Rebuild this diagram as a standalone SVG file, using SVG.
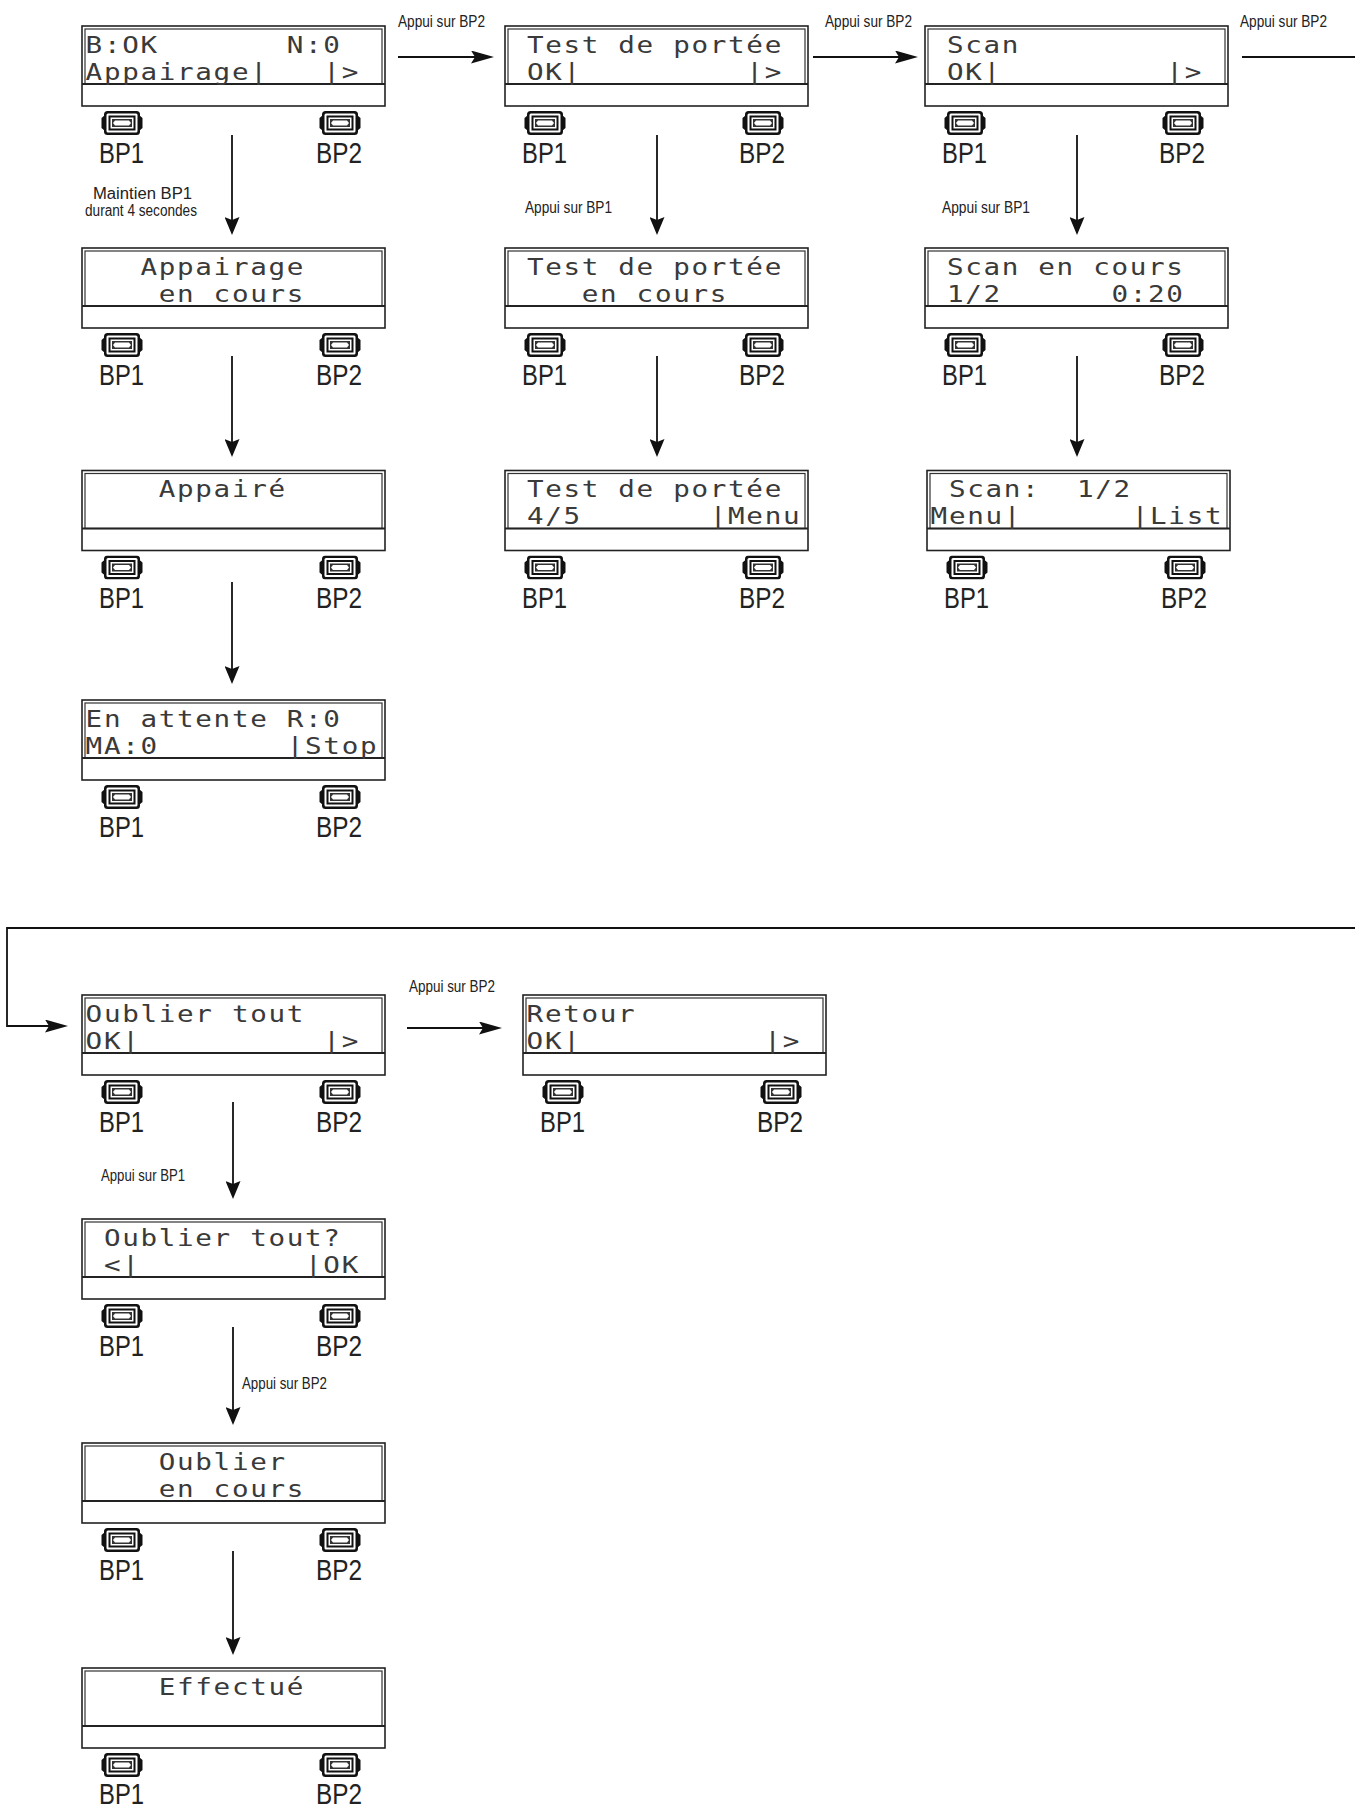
<svg xmlns="http://www.w3.org/2000/svg" xmlns:xlink="http://www.w3.org/1999/xlink" width="1355" height="1807" viewBox="0 0 1355 1807">
<style>
.frame{fill:#fff;stroke:#222;stroke-width:1.6}
.lcd{fill:none;stroke:#333;stroke-width:1.2}
.sep{stroke:#222;stroke-width:2}
.lcdt{font-family:"DejaVu Sans Mono","Liberation Mono",monospace;font-size:23px;letter-spacing:1.4px;fill:#3a3a3a;white-space:pre;transform:scale(1.2,1);transform-origin:0 0}
.bp{font-family:"Liberation Sans",Arial,sans-serif;font-size:29px;fill:#222}
.lbl{font-family:"Liberation Sans",Arial,sans-serif;font-size:16px;fill:#222}
.con{fill:none;stroke:#111;stroke-width:1.8}
</style>
<defs>
<symbol id="btn" viewBox="0 0 42 24" width="42" height="24">
<path d="M4,4 L0.5,7 L0.5,17 L4,20 Z M38,4 L41.5,7 L41.5,17 L38,20 Z" fill="#111"/>
<rect x="3" y="0" width="36" height="24" rx="3.5" fill="#111"/>
<rect x="5.5" y="2.5" width="31" height="19" rx="1.5" fill="#fff"/>
<rect x="7.5" y="4.5" width="27" height="15" fill="#111"/>
<rect x="9.5" y="6.5" width="23" height="11" fill="#fff"/>
<rect x="11" y="8" width="20" height="8" fill="#333"/>
<path d="M14,9.5 L28,9.5 L30,12 L28,14.5 L14,14.5 L12,12 Z" fill="#fff"/>
</symbol>
<marker id="ah" viewBox="0 0 23 13" refX="18" refY="6.5" markerWidth="23" markerHeight="13" markerUnits="userSpaceOnUse" orient="auto">
<path d="M0,0 L23,6.5 L0,13 L4,6.5 Z" fill="#111"/>
</marker>
<marker id="av" viewBox="0 0 18 15" refX="13" refY="7.5" markerWidth="18" markerHeight="15" markerUnits="userSpaceOnUse" orient="auto">
<path d="M0,0 L18,7.5 L0,15 L3,7.5 Z" fill="#111"/>
</marker>
</defs>
<rect width="1355" height="1807" fill="#fff"/>

<g id="connectors">
<path class="con" d="M398,57 H489" marker-end="url(#ah)"/>
<path class="con" d="M813,57 H913" marker-end="url(#ah)"/>
<path class="con" d="M1242,57 H1370 V928 H7 V1026 H63" marker-end="url(#ah)"/>
<path class="con" d="M407,1028 H497" marker-end="url(#ah)"/>
<path class="con" d="M232,135 V230" marker-end="url(#av)"/>
<path class="con" d="M232,356 V452" marker-end="url(#av)"/>
<path class="con" d="M232,582 V679" marker-end="url(#av)"/>
<path class="con" d="M657,135 V230" marker-end="url(#av)"/>
<path class="con" d="M657,356 V452" marker-end="url(#av)"/>
<path class="con" d="M1077,135 V230" marker-end="url(#av)"/>
<path class="con" d="M1077,356 V452" marker-end="url(#av)"/>
<path class="con" d="M233,1102 V1194" marker-end="url(#av)"/>
<path class="con" d="M233,1327 V1420" marker-end="url(#av)"/>
<path class="con" d="M233,1551 V1650" marker-end="url(#av)"/>
<text class="lbl" x="398" y="27" textLength="87" lengthAdjust="spacingAndGlyphs">Appui sur BP2</text>
<text class="lbl" x="825" y="27" textLength="87" lengthAdjust="spacingAndGlyphs">Appui sur BP2</text>
<text class="lbl" x="1240" y="27" textLength="87" lengthAdjust="spacingAndGlyphs">Appui sur BP2</text>
<text class="lbl" x="93" y="199" textLength="99" lengthAdjust="spacingAndGlyphs">Maintien BP1</text>
<text class="lbl" x="85" y="216" textLength="112" lengthAdjust="spacingAndGlyphs">durant 4 secondes</text>
<text class="lbl" x="525" y="213" textLength="87" lengthAdjust="spacingAndGlyphs">Appui sur BP1</text>
<text class="lbl" x="942" y="213" textLength="88" lengthAdjust="spacingAndGlyphs">Appui sur BP1</text>
<text class="lbl" x="409" y="992" textLength="86" lengthAdjust="spacingAndGlyphs">Appui sur BP2</text>
<text class="lbl" x="101" y="1181" textLength="84" lengthAdjust="spacingAndGlyphs">Appui sur BP1</text>
<text class="lbl" x="242" y="1389" textLength="85" lengthAdjust="spacingAndGlyphs">Appui sur BP2</text>
</g>

<g id="n-menu-appairage" transform="translate(82,26)">
<rect class="frame" width="303" height="80"/><rect class="lcd" x="3" y="3" width="297" height="55"/><line class="sep" x1="0" y1="58" x2="303" y2="58"/>
<text class="lcdt" xml:space="preserve"><tspan x="3" y="27">B:OK       N:0</tspan><tspan x="3" y="54">Appairage|   |&gt;</tspan></text>
<use xlink:href="#btn" x="19" y="85"/><use xlink:href="#btn" x="237" y="85"/>
<text class="bp" x="17" y="137" textLength="45" lengthAdjust="spacingAndGlyphs">BP1</text><text class="bp" x="234" y="137" textLength="46" lengthAdjust="spacingAndGlyphs">BP2</text>
</g>

<g id="n-menu-test" transform="translate(505,26)">
<rect class="frame" width="303" height="80"/><rect class="lcd" x="3" y="3" width="297" height="55"/><line class="sep" x1="0" y1="58" x2="303" y2="58"/>
<text class="lcdt" xml:space="preserve"><tspan x="3" y="27"> Test de portée</tspan><tspan x="3" y="54"> OK|         |&gt;</tspan></text>
<use xlink:href="#btn" x="19" y="85"/><use xlink:href="#btn" x="237" y="85"/>
<text class="bp" x="17" y="137" textLength="45" lengthAdjust="spacingAndGlyphs">BP1</text><text class="bp" x="234" y="137" textLength="46" lengthAdjust="spacingAndGlyphs">BP2</text>
</g>

<g id="n-menu-scan" transform="translate(925,26)">
<rect class="frame" width="303" height="80"/><rect class="lcd" x="3" y="3" width="297" height="55"/><line class="sep" x1="0" y1="58" x2="303" y2="58"/>
<text class="lcdt" xml:space="preserve"><tspan x="3" y="27"> Scan</tspan><tspan x="3" y="54"> OK|         |&gt;</tspan></text>
<use xlink:href="#btn" x="19" y="85"/><use xlink:href="#btn" x="237" y="85"/>
<text class="bp" x="17" y="137" textLength="45" lengthAdjust="spacingAndGlyphs">BP1</text><text class="bp" x="234" y="137" textLength="46" lengthAdjust="spacingAndGlyphs">BP2</text>
</g>

<g id="n-appairage-en-cours" transform="translate(82,248)">
<rect class="frame" width="303" height="80"/><rect class="lcd" x="3" y="3" width="297" height="55"/><line class="sep" x1="0" y1="58" x2="303" y2="58"/>
<text class="lcdt" xml:space="preserve"><tspan x="3" y="27">   Appairage</tspan><tspan x="3" y="54">    en cours</tspan></text>
<use xlink:href="#btn" x="19" y="85"/><use xlink:href="#btn" x="237" y="85"/>
<text class="bp" x="17" y="137" textLength="45" lengthAdjust="spacingAndGlyphs">BP1</text><text class="bp" x="234" y="137" textLength="46" lengthAdjust="spacingAndGlyphs">BP2</text>
</g>

<g id="n-test-en-cours" transform="translate(505,248)">
<rect class="frame" width="303" height="80"/><rect class="lcd" x="3" y="3" width="297" height="55"/><line class="sep" x1="0" y1="58" x2="303" y2="58"/>
<text class="lcdt" xml:space="preserve"><tspan x="3" y="27"> Test de portée</tspan><tspan x="3" y="54">    en cours</tspan></text>
<use xlink:href="#btn" x="19" y="85"/><use xlink:href="#btn" x="237" y="85"/>
<text class="bp" x="17" y="137" textLength="45" lengthAdjust="spacingAndGlyphs">BP1</text><text class="bp" x="234" y="137" textLength="46" lengthAdjust="spacingAndGlyphs">BP2</text>
</g>

<g id="n-scan-en-cours" transform="translate(925,248)">
<rect class="frame" width="303" height="80"/><rect class="lcd" x="3" y="3" width="297" height="55"/><line class="sep" x1="0" y1="58" x2="303" y2="58"/>
<text class="lcdt" xml:space="preserve"><tspan x="3" y="27"> Scan en cours</tspan><tspan x="3" y="54"> 1/2      0:20</tspan></text>
<use xlink:href="#btn" x="19" y="85"/><use xlink:href="#btn" x="237" y="85"/>
<text class="bp" x="17" y="137" textLength="45" lengthAdjust="spacingAndGlyphs">BP1</text><text class="bp" x="234" y="137" textLength="46" lengthAdjust="spacingAndGlyphs">BP2</text>
</g>

<g id="n-appaire" transform="translate(82,470.5)">
<rect class="frame" width="303" height="80"/><rect class="lcd" x="3" y="3" width="297" height="55"/><line class="sep" x1="0" y1="58" x2="303" y2="58"/>
<text class="lcdt" x="3" y="27" xml:space="preserve">    Appairé</text>
<use xlink:href="#btn" x="19" y="85"/><use xlink:href="#btn" x="237" y="85"/>
<text class="bp" x="17" y="137" textLength="45" lengthAdjust="spacingAndGlyphs">BP1</text><text class="bp" x="234" y="137" textLength="46" lengthAdjust="spacingAndGlyphs">BP2</text>
</g>

<g id="n-test-resultat" transform="translate(505,470.5)">
<rect class="frame" width="303" height="80"/><rect class="lcd" x="3" y="3" width="297" height="55"/><line class="sep" x1="0" y1="58" x2="303" y2="58"/>
<text class="lcdt" xml:space="preserve"><tspan x="3" y="27"> Test de portée</tspan><tspan x="3" y="54"> 4/5       |Menu</tspan></text>
<use xlink:href="#btn" x="19" y="85"/><use xlink:href="#btn" x="237" y="85"/>
<text class="bp" x="17" y="137" textLength="45" lengthAdjust="spacingAndGlyphs">BP1</text><text class="bp" x="234" y="137" textLength="46" lengthAdjust="spacingAndGlyphs">BP2</text>
</g>

<g id="n-scan-resultat" transform="translate(927,470.5)">
<rect class="frame" width="303" height="80"/><rect class="lcd" x="3" y="3" width="297" height="55"/><line class="sep" x1="0" y1="58" x2="303" y2="58"/>
<text class="lcdt" xml:space="preserve"><tspan x="3" y="27"> Scan:  1/2</tspan><tspan x="3" y="54">Menu|      |List</tspan></text>
<use xlink:href="#btn" x="19" y="85"/><use xlink:href="#btn" x="237" y="85"/>
<text class="bp" x="17" y="137" textLength="45" lengthAdjust="spacingAndGlyphs">BP1</text><text class="bp" x="234" y="137" textLength="46" lengthAdjust="spacingAndGlyphs">BP2</text>
</g>

<g id="n-en-attente" transform="translate(82,700)">
<rect class="frame" width="303" height="80"/><rect class="lcd" x="3" y="3" width="297" height="55"/><line class="sep" x1="0" y1="58" x2="303" y2="58"/>
<text class="lcdt" xml:space="preserve"><tspan x="3" y="27">En attente R:0</tspan><tspan x="3" y="54">MA:0       |Stop</tspan></text>
<use xlink:href="#btn" x="19" y="85"/><use xlink:href="#btn" x="237" y="85"/>
<text class="bp" x="17" y="137" textLength="45" lengthAdjust="spacingAndGlyphs">BP1</text><text class="bp" x="234" y="137" textLength="46" lengthAdjust="spacingAndGlyphs">BP2</text>
</g>

<g id="n-menu-oublier" transform="translate(82,995)">
<rect class="frame" width="303" height="80"/><rect class="lcd" x="3" y="3" width="297" height="55"/><line class="sep" x1="0" y1="58" x2="303" y2="58"/>
<text class="lcdt" xml:space="preserve"><tspan x="3" y="27">Oublier tout</tspan><tspan x="3" y="54">OK|          |&gt;</tspan></text>
<use xlink:href="#btn" x="19" y="85"/><use xlink:href="#btn" x="237" y="85"/>
<text class="bp" x="17" y="137" textLength="45" lengthAdjust="spacingAndGlyphs">BP1</text><text class="bp" x="234" y="137" textLength="46" lengthAdjust="spacingAndGlyphs">BP2</text>
</g>

<g id="n-menu-retour" transform="translate(523,995)">
<rect class="frame" width="303" height="80"/><rect class="lcd" x="3" y="3" width="297" height="55"/><line class="sep" x1="0" y1="58" x2="303" y2="58"/>
<text class="lcdt" xml:space="preserve"><tspan x="3" y="27">Retour</tspan><tspan x="3" y="54">OK|          |&gt;</tspan></text>
<use xlink:href="#btn" x="19" y="85"/><use xlink:href="#btn" x="237" y="85"/>
<text class="bp" x="17" y="137" textLength="45" lengthAdjust="spacingAndGlyphs">BP1</text><text class="bp" x="234" y="137" textLength="46" lengthAdjust="spacingAndGlyphs">BP2</text>
</g>

<g id="n-oublier-confirm" transform="translate(82,1219)">
<rect class="frame" width="303" height="80"/><rect class="lcd" x="3" y="3" width="297" height="55"/><line class="sep" x1="0" y1="58" x2="303" y2="58"/>
<text class="lcdt" xml:space="preserve"><tspan x="3" y="27"> Oublier tout?</tspan><tspan x="3" y="54"> &lt;|         |OK</tspan></text>
<use xlink:href="#btn" x="19" y="85"/><use xlink:href="#btn" x="237" y="85"/>
<text class="bp" x="17" y="137" textLength="45" lengthAdjust="spacingAndGlyphs">BP1</text><text class="bp" x="234" y="137" textLength="46" lengthAdjust="spacingAndGlyphs">BP2</text>
</g>

<g id="n-oublier-en-cours" transform="translate(82,1443)">
<rect class="frame" width="303" height="80"/><rect class="lcd" x="3" y="3" width="297" height="55"/><line class="sep" x1="0" y1="58" x2="303" y2="58"/>
<text class="lcdt" xml:space="preserve"><tspan x="3" y="27">    Oublier</tspan><tspan x="3" y="54">    en cours</tspan></text>
<use xlink:href="#btn" x="19" y="85"/><use xlink:href="#btn" x="237" y="85"/>
<text class="bp" x="17" y="137" textLength="45" lengthAdjust="spacingAndGlyphs">BP1</text><text class="bp" x="234" y="137" textLength="46" lengthAdjust="spacingAndGlyphs">BP2</text>
</g>

<g id="n-effectue" transform="translate(82,1668)">
<rect class="frame" width="303" height="80"/><rect class="lcd" x="3" y="3" width="297" height="55"/><line class="sep" x1="0" y1="58" x2="303" y2="58"/>
<text class="lcdt" x="3" y="27" xml:space="preserve">    Effectué</text>
<use xlink:href="#btn" x="19" y="85"/><use xlink:href="#btn" x="237" y="85"/>
<text class="bp" x="17" y="136" textLength="45" lengthAdjust="spacingAndGlyphs">BP1</text><text class="bp" x="234" y="136" textLength="46" lengthAdjust="spacingAndGlyphs">BP2</text>
</g>
</svg>
